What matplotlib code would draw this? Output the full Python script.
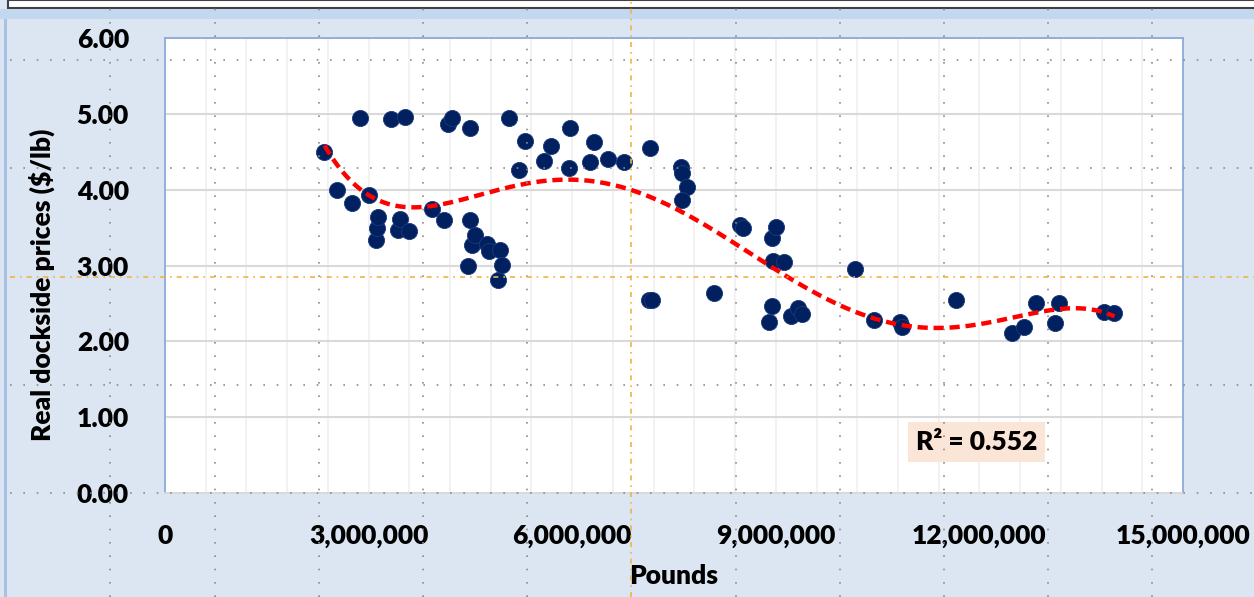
import numpy as np
import matplotlib.pyplot as plt
from matplotlib.lines import Line2D
from matplotlib.patches import Rectangle
from matplotlib.ticker import FuncFormatter, MultipleLocator

# pounds landed (millions) and real dockside price ($/lb)
pounds_m = np.array([2.35, 2.53, 2.75, 2.87, 3.00, 3.11, 3.13, 3.14, 3.33, 3.43,
                     3.46, 3.53, 3.60, 3.94, 4.11, 4.17, 4.23, 4.46, 4.49, 4.50,
                     4.53, 4.57, 4.75, 4.78, 4.91, 4.94, 4.97, 5.07, 5.22, 5.31,
                     5.59, 5.69, 5.96, 5.97, 6.26, 6.32, 6.53, 6.76, 7.14, 7.13,
                     7.17, 7.60, 7.62, 7.69, 7.62, 8.09, 8.47, 8.51, 8.95, 9.00,
                     8.96, 9.12, 8.95, 8.90, 9.22, 9.33, 9.39, 10.17, 10.44, 10.83,
                     10.86, 11.65, 12.48, 12.65, 12.83, 13.11, 13.18, 13.84, 13.99])
price = np.array([4.50, 4.00, 3.83, 4.94, 3.93, 3.34, 3.50, 3.64, 4.93, 3.47,
                  3.61, 4.96, 3.45, 3.75, 3.60, 4.86, 4.95, 2.99, 4.81, 3.60,
                  3.27, 3.40, 3.28, 3.19, 2.81, 3.20, 3.01, 4.95, 4.26, 4.64,
                  4.38, 4.58, 4.28, 4.81, 4.37, 4.63, 4.40, 4.36, 4.55, 2.54,
                  2.55, 4.30, 4.22, 4.04, 3.86, 2.64, 3.53, 3.49, 3.36, 3.51,
                  3.06, 3.04, 2.47, 2.26, 2.33, 2.44, 2.36, 2.96, 2.28, 2.26,
                  2.19, 2.55, 2.11, 2.19, 2.50, 2.24, 2.51, 2.39, 2.37])
pounds = pounds_m * 1e6
r2_text = "R\u00b2 = 0.552"

W, H = 1254, 597
bg = '#dce6f2'
fig = plt.figure(figsize=(W / 100, H / 100), dpi=100, facecolor=bg)
plt.rcParams['font.family'] = ['Lato', 'DejaVu Sans']

# window bits at the top / left of the screenshot
fig.add_artist(Rectangle((8 / W, 1 - 8 / H), 1, 8 / H, transform=fig.transFigure,
                         facecolor='white', edgecolor='#404040', lw=1.5))
fig.add_artist(Rectangle((0, 1 - 19 / H), 1, 10 / H, transform=fig.transFigure,
                         facecolor='#c3d7ef', edgecolor='none'))
fig.add_artist(Rectangle((4 / W, 0), 3 / W, 1 - 19 / H, transform=fig.transFigure,
                         facecolor='#a7c0e4', edgecolor='none'))

ax = fig.add_axes([165 / W, 1 - 493 / H, (1183 - 165) / W, (493 - 38) / H])
ax.set_facecolor('white')

ax.scatter(pounds, price, s=135, color='#002060', edgecolors='#1a3a7a',
           linewidths=0.6, zorder=3)

# 5th order polynomial trendline
coef = np.polyfit(pounds_m, price, 5)
xs = np.linspace(pounds_m.min(), pounds_m.max(), 300)
ax.plot(xs * 1e6, np.polyval(coef, xs), color='#ff0000', lw=3.2,
        dashes=(2.3, 1.3), zorder=4)

ax.set_xlim(0, 15e6)
ax.set_ylim(0, 6)
ax.xaxis.set_major_locator(MultipleLocator(3e6))
ax.xaxis.set_minor_locator(MultipleLocator(6e5))
ax.yaxis.set_major_locator(MultipleLocator(1))
ax.xaxis.set_major_formatter(FuncFormatter(lambda v, p: f"{int(v):,}"))
ax.yaxis.set_major_formatter(FuncFormatter(lambda v, p: f"{v:.2f}"))
ax.grid(axis='y', which='major', color='#d9d9d9', lw=1.5, zorder=0)
ax.grid(axis='x', which='both', color='#f0f0f0', lw=1.2, zorder=0)
ax.set_axisbelow(True)
ax.tick_params(axis='both', which='both', length=0, labelsize=19)
ax.tick_params(axis='y', pad=26)
ax.tick_params(axis='x', pad=22)
for lab in ax.get_xticklabels() + ax.get_yticklabels():
    lab.set_fontweight('heavy')
for s in ax.spines.values():
    s.set_color('#8eaadb')
    s.set_linewidth(1.3)
ax.spines['bottom'].set_color('#d9d9d9')

ax.set_ylabel('Real dockside prices ($/lb)', fontsize=19, fontweight='heavy')
ax.yaxis.set_label_coords(-0.108, 0.457)
ax.set_xlabel('Pounds', fontsize=19, fontweight='heavy')
ax.xaxis.set_label_coords(0.5, -0.155)

ax.text(11.96e6, 0.67, r2_text, fontsize=19, fontweight='heavy', ha='center',
        va='center', bbox=dict(boxstyle='square,pad=0.3', facecolor='#fbe5d6',
                               edgecolor='none'), zorder=5)

# screen guide overlay (dotted grid + orange centre guides)
for gx in [110, 215, 319, 423, 527, 736, 840, 944, 1048, 1152]:
    fig.add_artist(Line2D([gx / W, gx / W], [0, 1], transform=fig.transFigure,
                          color='#8c8c8c', lw=1.2, ls=(0, (1, 7))))
for gy in [60, 168, 385, 493]:
    fig.add_artist(Line2D([10 / W, 1], [1 - gy / H, 1 - gy / H], transform=fig.transFigure,
                          color='#8c8c8c', lw=1.2, ls=(0, (1, 7))))
fig.add_artist(Line2D([631 / W, 631 / W], [0, 1], transform=fig.transFigure,
                      color='#f0b440', lw=1.2, ls=(0, (3, 3, 1, 3))))
fig.add_artist(Line2D([10 / W, 1], [1 - 277 / H, 1 - 277 / H], transform=fig.transFigure,
                      color='#f0b440', lw=1.2, ls=(0, (3, 3, 1, 3))))

fig.savefig('out.png', dpi=100, facecolor=bg)
